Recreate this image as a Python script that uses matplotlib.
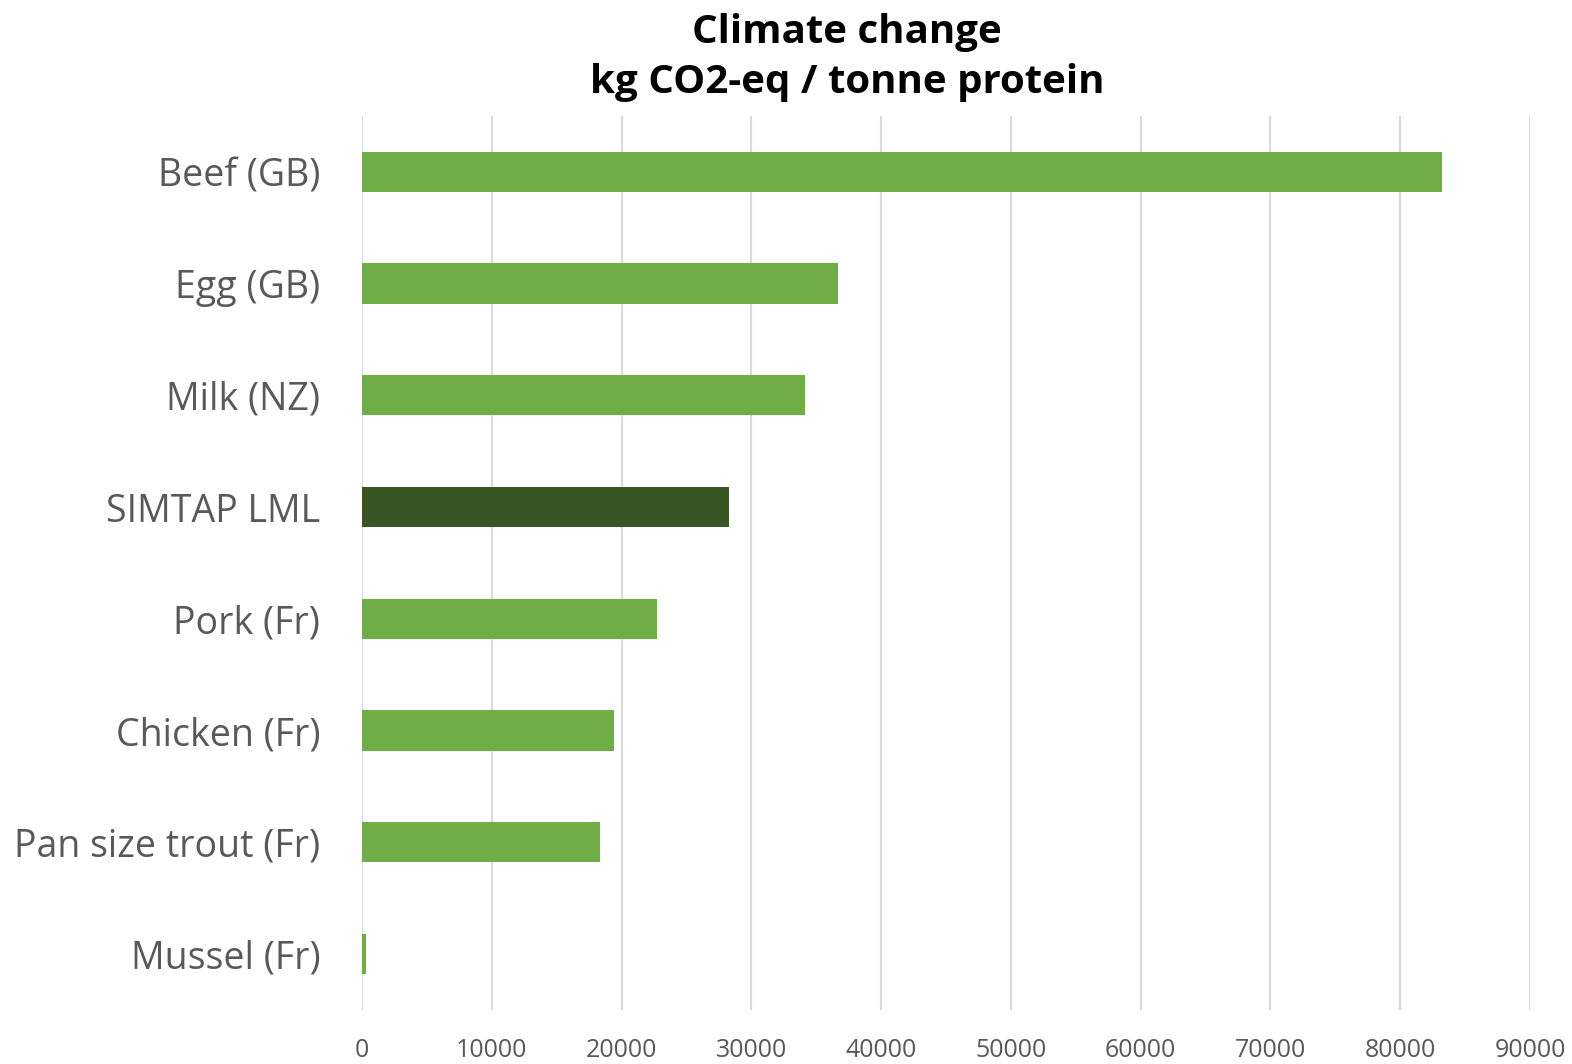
import matplotlib.pyplot as plt

# data
foods = ['Beef (GB)', 'Egg (GB)', 'Milk (NZ)', 'SIMTAP LML', 'Pork (Fr)',
         'Chicken (Fr)', 'Pan size trout (Fr)', 'Mussel (Fr)']
co2_per_tonne = [83200, 36700, 34150, 28300, 22750, 19450, 18350, 270]
bar_colors = ['#70AD47', '#70AD47', '#70AD47', '#375623', '#70AD47',
              '#70AD47', '#70AD47', '#70AD47']
xticks = list(range(0, 90001, 10000))

plt.rcParams['font.family'] = ['Open Sans', 'DejaVu Sans']

fig = plt.figure(figsize=(15.72, 10.64), dpi=100)
ax = fig.add_axes([0.2303, 0.0508, 0.7430, 0.8402])

ypos = list(range(len(foods)))
ax.barh(ypos, co2_per_tonne, height=0.36, color=bar_colors, zorder=3)

ax.set_ylim(len(foods) - 0.5, -0.5)
ax.set_xlim(0, 90000)
ax.set_yticks(ypos)
ax.set_yticklabels(foods, fontsize=27, color='#595959')
ax.set_xticks(xticks)
ax.set_xticklabels([str(t) for t in xticks], fontsize=18, color='#595959')
ax.tick_params(axis='both', length=0)
ax.tick_params(axis='y', pad=30)
ax.tick_params(axis='x', pad=20)
ax.grid(axis='x', color='#D9D9D9', linewidth=1.5, zorder=0)
for s in ax.spines.values():
    s.set_visible(False)

fig.text(0.539, 0.946, 'Climate change\nkg CO2-eq / tonne protein', ha='center', va='center',
         fontsize=29, fontweight='bold', color='black', linespacing=1.35)

fig.savefig('out.png', dpi=100)
